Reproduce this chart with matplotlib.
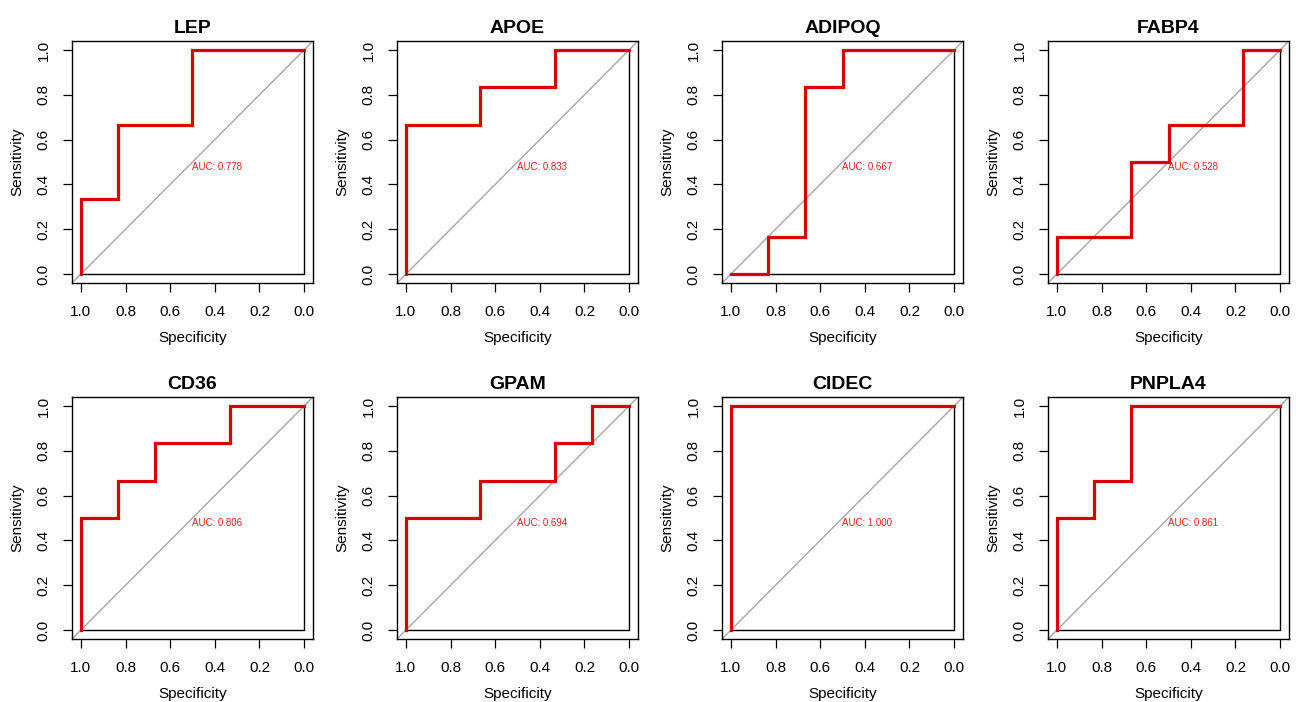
import matplotlib
matplotlib.use('Agg')
import matplotlib.pyplot as plt
import numpy as np

plt.rcParams['font.family'] = ['Liberation Sans', 'DejaVu Sans']

# ROC curves: specificity / sensitivity step points (6 cases, 6 controls)
genes = ['LEP', 'APOE', 'ADIPOQ', 'FABP4', 'CD36', 'GPAM', 'CIDEC', 'PNPLA4']
s = 1 / 6
spec = {
    'LEP':    [1, 1, 5*s, 5*s, 3*s, 3*s, 0],
    'APOE':   [1, 1, 4*s, 4*s, 2*s, 2*s, 0],
    'ADIPOQ': [1, 5*s, 5*s, 4*s, 4*s, 3*s, 3*s, 0],
    'FABP4':  [1, 1, 4*s, 4*s, 3*s, 3*s, 1*s, 1*s, 0],
    'CD36':   [1, 1, 5*s, 5*s, 4*s, 4*s, 2*s, 2*s, 0],
    'GPAM':   [1, 1, 4*s, 4*s, 2*s, 2*s, 1*s, 1*s, 0],
    'CIDEC':  [1, 1, 0],
    'PNPLA4': [1, 1, 5*s, 5*s, 4*s, 4*s, 0],
}
sens = {
    'LEP':    [0, 2*s, 2*s, 4*s, 4*s, 1, 1],
    'APOE':   [0, 4*s, 4*s, 5*s, 5*s, 1, 1],
    'ADIPOQ': [0, 0, 1*s, 1*s, 5*s, 5*s, 1, 1],
    'FABP4':  [0, 1*s, 1*s, 3*s, 3*s, 4*s, 4*s, 1, 1],
    'CD36':   [0, 3*s, 3*s, 4*s, 4*s, 5*s, 5*s, 1, 1],
    'GPAM':   [0, 3*s, 3*s, 4*s, 4*s, 5*s, 5*s, 1, 1],
    'CIDEC':  [0, 1, 1],
    'PNPLA4': [0, 3*s, 3*s, 4*s, 4*s, 1, 1],
}
auc = ['0.778', '0.833', '0.667', '0.528', '0.806', '0.694', '1.000', '0.861']

W, H = 1296, 702
fig = plt.figure(figsize=(W / 100, H / 100), dpi=100)

lefts = [72, 397, 722, 1048]
tops = [41, 397]
aw, ah = 241, 242

for i, g in enumerate(genes):
    r, c = divmod(i, 4)
    ax = fig.add_axes([lefts[c] / W, 1 - (tops[r] + ah) / H, aw / W, ah / H])
    ax.set_xlim(1.04, -0.04)
    ax.set_ylim(-0.04, 1.04)
    ax.axline((1, 0), (0, 1), color='#a6a6a6', lw=1.0, zorder=1)
    # bottom and right edges of the unit square
    ax.plot([1, 0, 0], [0, 0, 1], color='black', lw=1.0, zorder=2)
    ax.plot(spec[g], sens[g], color='#d90000', lw=2.3, zorder=3,
            solid_joinstyle='miter')
    ax.text(0.5, 0.5, 'AUC: ' + auc[i], color='#e02020', fontsize=7,
            ha='left', va='top')
    ax.set_title(g, fontsize=14, fontweight='bold', pad=6)
    ticks = [1.0, 0.8, 0.6, 0.4, 0.2, 0.0]
    ax.set_xticks(ticks)
    ax.set_xticklabels(['%.1f' % t for t in ticks])
    ax.set_yticks(ticks[::-1])
    ax.set_yticklabels(['%.1f' % t for t in ticks[::-1]], rotation=90,
                       va='center')
    ax.tick_params(direction='out', length=6.5, width=0.9, labelsize=11,
                   pad=9)
    ax.set_xlabel('Specificity', fontsize=11, labelpad=9)
    ax.set_ylabel('Sensitivity', fontsize=11, labelpad=9)
    for sp in ax.spines.values():
        sp.set_linewidth(1.0)

plt.savefig('out.png', dpi=100)
